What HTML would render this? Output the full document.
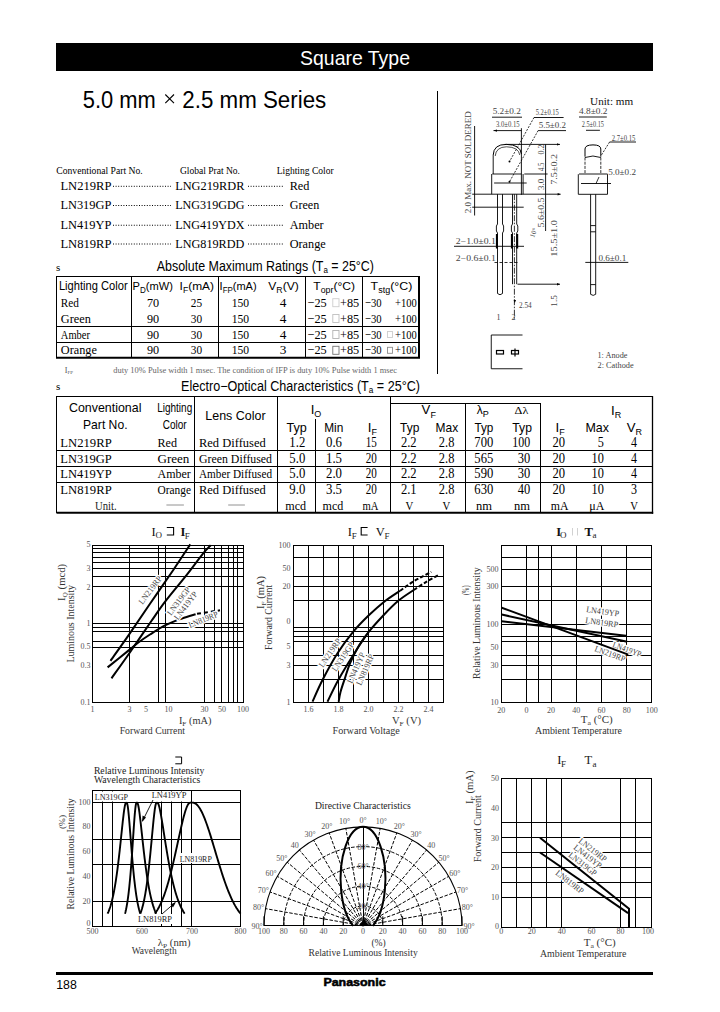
<!DOCTYPE html>
<html><head><meta charset="utf-8"><title>Square Type LED</title>
<style>html,body{margin:0;padding:0;background:#fff;width:720px;height:1012px;overflow:hidden}svg{display:block}
svg text{stroke:none}
</style></head>
<body><svg width="720" height="1012" viewBox="0 0 720 1012" font-family="Liberation Serif" stroke="#000">
<rect x="56" y="43" width="597" height="28" fill="#000" stroke="none"/>
<text x="300.00" y="64.80" font-size="20.6" font-family="Liberation Sans" textLength="110.00" lengthAdjust="spacingAndGlyphs" fill="#fff">Square Type</text>
<text x="82.80" y="107.50" font-size="23.5" font-family="Liberation Sans" textLength="73.00" lengthAdjust="spacingAndGlyphs">5.0 mm</text>
<text x="182.30" y="107.50" font-size="23.5" font-family="Liberation Sans" textLength="144.00" lengthAdjust="spacingAndGlyphs">2.5 mm Series</text>
<path d="M165.3,94.5 L174,103.2 M174,94.5 L165.3,103.2" stroke-width="1.1" fill="none"/>
<line x1="437.5" y1="91" x2="437.5" y2="374" stroke-width="1"/>
<text x="56.30" y="173.50" font-size="9.5" textLength="86.40" lengthAdjust="spacingAndGlyphs">Conventional Part No.</text>
<text x="179.90" y="173.50" font-size="9.5" textLength="60.10" lengthAdjust="spacingAndGlyphs">Global Prat No.</text>
<text x="276.70" y="173.50" font-size="9.5" textLength="56.90" lengthAdjust="spacingAndGlyphs">Lighting Color</text>
<text x="60.40" y="189.80" font-size="13.5" textLength="51.00" lengthAdjust="spacingAndGlyphs">LN219RP</text>
<text x="175.20" y="189.80" font-size="13.5" textLength="69.20" lengthAdjust="spacingAndGlyphs">LNG219RDR</text>
<text x="289.70" y="189.80" font-size="13.5" textLength="19.70" lengthAdjust="spacingAndGlyphs">Red</text>
<line x1="113" y1="186.3" x2="171" y2="186.3" stroke-width="1" stroke-dasharray="1 1.6"/>
<line x1="248" y1="186.3" x2="284" y2="186.3" stroke-width="1" stroke-dasharray="1 1.6"/>
<text x="60.40" y="209.00" font-size="13.5" textLength="51.00" lengthAdjust="spacingAndGlyphs">LN319GP</text>
<text x="175.20" y="209.00" font-size="13.5" textLength="69.20" lengthAdjust="spacingAndGlyphs">LNG319GDG</text>
<text x="289.70" y="209.00" font-size="13.5" textLength="29.50" lengthAdjust="spacingAndGlyphs">Green</text>
<line x1="113" y1="205.5" x2="171" y2="205.5" stroke-width="1" stroke-dasharray="1 1.6"/>
<line x1="248" y1="205.5" x2="284" y2="205.5" stroke-width="1" stroke-dasharray="1 1.6"/>
<text x="60.40" y="228.75" font-size="13.5" textLength="51.00" lengthAdjust="spacingAndGlyphs">LN419YP</text>
<text x="175.20" y="228.75" font-size="13.5" textLength="69.20" lengthAdjust="spacingAndGlyphs">LNG419YDX</text>
<text x="289.70" y="228.75" font-size="13.5" textLength="34.00" lengthAdjust="spacingAndGlyphs">Amber</text>
<line x1="113" y1="225.25" x2="171" y2="225.25" stroke-width="1" stroke-dasharray="1 1.6"/>
<line x1="248" y1="225.25" x2="284" y2="225.25" stroke-width="1" stroke-dasharray="1 1.6"/>
<text x="60.40" y="247.50" font-size="13.5" textLength="51.00" lengthAdjust="spacingAndGlyphs">LN819RP</text>
<text x="175.20" y="247.50" font-size="13.5" textLength="69.20" lengthAdjust="spacingAndGlyphs">LNG819RDD</text>
<text x="289.70" y="247.50" font-size="13.5" textLength="36.00" lengthAdjust="spacingAndGlyphs">Orange</text>
<line x1="113" y1="244.0" x2="171" y2="244.0" stroke-width="1" stroke-dasharray="1 1.6"/>
<line x1="248" y1="244.0" x2="284" y2="244.0" stroke-width="1" stroke-dasharray="1 1.6"/>
<text x="56.00" y="270.50" font-size="11">s</text>
<text x="156.7" y="271" font-size="14" font-family="Liberation Sans" textLength="217.3" lengthAdjust="spacingAndGlyphs">Absolute Maximum Ratings (T<tspan font-size="9" dy="2">a</tspan><tspan dy="-2"> = 25°C)</tspan></text>
<line x1="56" y1="276.5" x2="420" y2="276.5" stroke-width="1"/>
<line x1="56.5" y1="276" x2="56.5" y2="358" stroke-width="1"/>
<line x1="131.5" y1="276" x2="131.5" y2="358" stroke-width="1"/>
<line x1="218.5" y1="276" x2="218.5" y2="358" stroke-width="1"/>
<line x1="305.5" y1="276" x2="305.5" y2="358" stroke-width="1"/>
<line x1="362.5" y1="276" x2="362.5" y2="358" stroke-width="1"/>
<line x1="419" y1="276" x2="419" y2="358" stroke-width="2"/>
<line x1="56" y1="326.5" x2="420" y2="326.5" stroke-width="1"/>
<line x1="56" y1="342.5" x2="420" y2="342.5" stroke-width="1"/>
<line x1="56" y1="357.7" x2="420" y2="357.7" stroke-width="2"/>
<text x="58.90" y="289.70" font-size="12" font-family="Liberation Sans" textLength="68.70" lengthAdjust="spacingAndGlyphs">Lighting Color</text>
<text x="132.5" y="289.7" font-size="11.7" font-family="Liberation Sans" textLength="40.4" lengthAdjust="spacingAndGlyphs">P<tspan font-size="8.5" dy="3">D</tspan><tspan dy="-3">(mW)</tspan></text>
<text x="179.6" y="289.7" font-size="11.7" font-family="Liberation Sans" textLength="34.4" lengthAdjust="spacingAndGlyphs">I<tspan font-size="8.5" dy="3">F</tspan><tspan dy="-3">(mA)</tspan></text>
<text x="219.6" y="289.7" font-size="11.7" font-family="Liberation Sans" textLength="37.0" lengthAdjust="spacingAndGlyphs">I<tspan font-size="8.5" dy="3">FP</tspan><tspan dy="-3">(mA)</tspan></text>
<text x="268.3" y="289.7" font-size="11.7" font-family="Liberation Sans" textLength="30.6" lengthAdjust="spacingAndGlyphs">V<tspan font-size="8.5" dy="3">R</tspan><tspan dy="-3">(V)</tspan></text>
<text x="313.3" y="289.7" font-size="11.7" font-family="Liberation Sans" textLength="41.7" lengthAdjust="spacingAndGlyphs">T<tspan font-size="8.5" dy="3">opr</tspan><tspan dy="-3">(°C)</tspan></text>
<text x="370.6" y="289.7" font-size="11.7" font-family="Liberation Sans" textLength="41.7" lengthAdjust="spacingAndGlyphs">T<tspan font-size="8.5" dy="3">stg</tspan><tspan dy="-3">(°C)</tspan></text>
<text x="60.80" y="306.70" font-size="13.3" textLength="18.10" lengthAdjust="spacingAndGlyphs">Red</text>
<text x="153.00" y="306.70" font-size="13.3" textLength="12.20" lengthAdjust="spacingAndGlyphs" text-anchor="middle">70</text>
<text x="196.50" y="306.70" font-size="13.3" textLength="11.30" lengthAdjust="spacingAndGlyphs" text-anchor="middle">25</text>
<text x="240.40" y="306.70" font-size="13.3" textLength="17.40" lengthAdjust="spacingAndGlyphs" text-anchor="middle">150</text>
<text x="283.00" y="306.70" font-size="13.3" text-anchor="middle">4</text>
<text x="307.50" y="306.70" font-size="13.3" textLength="19.20" lengthAdjust="spacingAndGlyphs">−25</text>
<text x="340.00" y="306.70" font-size="13.3" textLength="19.20" lengthAdjust="spacingAndGlyphs">+85</text>
<text x="365.00" y="306.70" font-size="13.3" textLength="16.70" lengthAdjust="spacingAndGlyphs">−30</text>
<text x="395.00" y="306.70" font-size="13.3" textLength="21.70" lengthAdjust="spacingAndGlyphs">+100</text>
<text x="60.80" y="322.50" font-size="13.3" textLength="30.00" lengthAdjust="spacingAndGlyphs">Green</text>
<text x="153.00" y="322.50" font-size="13.3" textLength="12.20" lengthAdjust="spacingAndGlyphs" text-anchor="middle">90</text>
<text x="196.50" y="322.50" font-size="13.3" textLength="11.30" lengthAdjust="spacingAndGlyphs" text-anchor="middle">30</text>
<text x="240.40" y="322.50" font-size="13.3" textLength="17.40" lengthAdjust="spacingAndGlyphs" text-anchor="middle">150</text>
<text x="283.00" y="322.50" font-size="13.3" text-anchor="middle">4</text>
<text x="307.50" y="322.50" font-size="13.3" textLength="19.20" lengthAdjust="spacingAndGlyphs">−25</text>
<text x="340.00" y="322.50" font-size="13.3" textLength="19.20" lengthAdjust="spacingAndGlyphs">+85</text>
<text x="365.00" y="322.50" font-size="13.3" textLength="16.70" lengthAdjust="spacingAndGlyphs">−30</text>
<text x="395.00" y="322.50" font-size="13.3" textLength="21.70" lengthAdjust="spacingAndGlyphs">+100</text>
<text x="60.80" y="338.50" font-size="13.3" textLength="29.20" lengthAdjust="spacingAndGlyphs">Amber</text>
<text x="153.00" y="338.50" font-size="13.3" textLength="12.20" lengthAdjust="spacingAndGlyphs" text-anchor="middle">90</text>
<text x="196.50" y="338.50" font-size="13.3" textLength="11.30" lengthAdjust="spacingAndGlyphs" text-anchor="middle">30</text>
<text x="240.40" y="338.50" font-size="13.3" textLength="17.40" lengthAdjust="spacingAndGlyphs" text-anchor="middle">150</text>
<text x="283.00" y="338.50" font-size="13.3" text-anchor="middle">4</text>
<text x="307.50" y="338.50" font-size="13.3" textLength="19.20" lengthAdjust="spacingAndGlyphs">−25</text>
<text x="340.00" y="338.50" font-size="13.3" textLength="19.20" lengthAdjust="spacingAndGlyphs">+85</text>
<text x="365.00" y="338.50" font-size="13.3" textLength="16.70" lengthAdjust="spacingAndGlyphs">−30</text>
<text x="395.00" y="338.50" font-size="13.3" textLength="21.70" lengthAdjust="spacingAndGlyphs">+100</text>
<text x="60.80" y="354.30" font-size="13.3" textLength="36.10" lengthAdjust="spacingAndGlyphs">Orange</text>
<text x="153.00" y="354.30" font-size="13.3" textLength="12.20" lengthAdjust="spacingAndGlyphs" text-anchor="middle">90</text>
<text x="196.50" y="354.30" font-size="13.3" textLength="11.30" lengthAdjust="spacingAndGlyphs" text-anchor="middle">30</text>
<text x="240.40" y="354.30" font-size="13.3" textLength="17.40" lengthAdjust="spacingAndGlyphs" text-anchor="middle">150</text>
<text x="283.00" y="354.30" font-size="13.3" text-anchor="middle">3</text>
<text x="307.50" y="354.30" font-size="13.3" textLength="19.20" lengthAdjust="spacingAndGlyphs">−25</text>
<text x="340.00" y="354.30" font-size="13.3" textLength="19.20" lengthAdjust="spacingAndGlyphs">+85</text>
<text x="365.00" y="354.30" font-size="13.3" textLength="16.70" lengthAdjust="spacingAndGlyphs">−30</text>
<text x="395.00" y="354.30" font-size="13.3" textLength="21.70" lengthAdjust="spacingAndGlyphs">+100</text>
<rect x="332.8" y="298.7" width="6.2" height="8" fill="none" stroke="#000" stroke-width="0.9" opacity="0.2"/>
<rect x="332.8" y="314.5" width="6.2" height="8" fill="none" stroke="#000" stroke-width="0.9" opacity="0.25"/>
<rect x="332.8" y="330.5" width="6.2" height="8" fill="none" stroke="#000" stroke-width="0.9" opacity="0.3"/>
<rect x="332.8" y="346.3" width="6.2" height="8" fill="none" stroke="#000" stroke-width="0.9" opacity="0.55"/>
<rect x="387.5" y="331.5" width="5" height="6" fill="none" stroke="#000" stroke-width="0.9" opacity="0.2"/>
<rect x="387.5" y="347.3" width="5" height="6" fill="none" stroke="#000" stroke-width="0.9" opacity="0.45"/>
<text x="64.70" y="372.50" font-size="8" fill="#555">I</text>
<text x="67.5" y="374" font-size="5" fill="#555">FP</text>
<text x="113.30" y="372.50" font-size="8" textLength="283.70" lengthAdjust="spacingAndGlyphs" fill="#666">duty 10% Pulse width 1 msec. The condition of IFP is duty 10% Pulse width 1 msec</text>
<text x="56.00" y="390.00" font-size="11">s</text>
<text x="181" y="390.8" font-size="13.8" font-family="Liberation Sans" textLength="239" lengthAdjust="spacingAndGlyphs">Electro−Optical Characteristics (T<tspan font-size="9" dy="2">a</tspan><tspan dy="-2"> = 25°C)</tspan></text>
<line x1="56" y1="396.5" x2="653" y2="396.5" stroke-width="1"/>
<line x1="56.5" y1="396" x2="56.5" y2="513" stroke-width="1"/>
<line x1="652.5" y1="396" x2="652.5" y2="513.8" stroke-width="1.3"/>
<line x1="194.5" y1="396" x2="194.5" y2="512" stroke-width="1"/>
<line x1="277.5" y1="396" x2="277.5" y2="512" stroke-width="1"/>
<line x1="315.5" y1="419" x2="315.5" y2="512" stroke-width="1"/>
<line x1="390.5" y1="396" x2="390.5" y2="512" stroke-width="1"/>
<line x1="465.5" y1="403.5" x2="465.5" y2="512" stroke-width="1"/>
<line x1="540.5" y1="403.5" x2="540.5" y2="512" stroke-width="1"/>
<line x1="390.6" y1="403.5" x2="541" y2="403.5" stroke-width="1"/>
<line x1="56.5" y1="450.5" x2="653" y2="450.5" stroke-width="1"/>
<line x1="56.5" y1="466.5" x2="653" y2="466.5" stroke-width="1"/>
<line x1="56.5" y1="482.5" x2="653" y2="482.5" stroke-width="1"/>
<line x1="56.5" y1="512.8" x2="653.2" y2="512.8" stroke-width="2"/>
<text x="69.00" y="412.20" font-size="13.2" font-family="Liberation Sans" textLength="72.40" lengthAdjust="spacingAndGlyphs">Conventional</text>
<text x="83.00" y="429.40" font-size="13.2" font-family="Liberation Sans" textLength="44.50" lengthAdjust="spacingAndGlyphs">Part No.</text>
<text x="157.20" y="412.20" font-size="12.5" font-family="Liberation Sans" textLength="35.00" lengthAdjust="spacingAndGlyphs">Lighting</text>
<text x="162.80" y="429.40" font-size="12.5" font-family="Liberation Sans" textLength="23.90" lengthAdjust="spacingAndGlyphs">Color</text>
<text x="205.30" y="420.00" font-size="13.2" font-family="Liberation Sans" textLength="60.30" lengthAdjust="spacingAndGlyphs">Lens Color</text>
<text x="310.7" y="413.9" font-size="13.2" font-family="Liberation Sans">I<tspan font-size="9" dy="3.5">O</tspan></text>
<text x="286.40" y="431.60" font-size="13.2" font-family="Liberation Sans" textLength="20.30" lengthAdjust="spacingAndGlyphs">Typ</text>
<text x="324.20" y="431.60" font-size="13.2" font-family="Liberation Sans" textLength="19.10" lengthAdjust="spacingAndGlyphs">Min</text>
<text x="367.8" y="431.6" font-size="13.2" font-family="Liberation Sans">I<tspan font-size="9" dy="3.5">F</tspan></text>
<text x="421.6" y="414.4" font-size="13.2" font-family="Liberation Sans">V<tspan font-size="9" dy="3.5">F</tspan></text>
<text x="400.00" y="431.60" font-size="13.2" font-family="Liberation Sans" textLength="19.30" lengthAdjust="spacingAndGlyphs">Typ</text>
<text x="435.60" y="431.60" font-size="13.2" font-family="Liberation Sans" textLength="22.60" lengthAdjust="spacingAndGlyphs">Max</text>
<text x="476.7" y="414.4" font-size="12" font-family="Liberation Sans">λ<tspan font-size="9" dy="3">P</tspan></text>
<text x="474.40" y="431.60" font-size="13.2" font-family="Liberation Sans" textLength="18.90" lengthAdjust="spacingAndGlyphs">Typ</text>
<text x="514.60" y="413.60" font-size="11" textLength="13.70" lengthAdjust="spacingAndGlyphs">Δλ</text>
<text x="512.30" y="431.60" font-size="13.2" font-family="Liberation Sans" textLength="19.60" lengthAdjust="spacingAndGlyphs">Typ</text>
<text x="611" y="414.8" font-size="13.2" font-family="Liberation Sans">I<tspan font-size="9" dy="3.5">R</tspan></text>
<text x="555.5" y="431.6" font-size="13.2" font-family="Liberation Sans">I<tspan font-size="9" dy="3.5">F</tspan></text>
<text x="585.50" y="431.60" font-size="13.2" font-family="Liberation Sans" textLength="23.50" lengthAdjust="spacingAndGlyphs">Max</text>
<text x="626.8" y="431.6" font-size="13.2" font-family="Liberation Sans">V<tspan font-size="9" dy="3.5">R</tspan></text>
<text x="60.30" y="446.90" font-size="13" textLength="51.40" lengthAdjust="spacingAndGlyphs">LN219RP</text>
<text x="157.50" y="446.90" font-size="13" textLength="19.50" lengthAdjust="spacingAndGlyphs">Red</text>
<text x="199.00" y="446.90" font-size="13" textLength="66.70" lengthAdjust="spacingAndGlyphs">Red Diffused</text>
<text x="297.30" y="446.90" font-size="14" textLength="15.90" lengthAdjust="spacingAndGlyphs" text-anchor="middle">1.2</text>
<text x="334.00" y="446.90" font-size="14" textLength="16.00" lengthAdjust="spacingAndGlyphs" text-anchor="middle">0.6</text>
<text x="371.20" y="446.90" font-size="14" textLength="11.10" lengthAdjust="spacingAndGlyphs" text-anchor="middle">15</text>
<text x="408.80" y="446.90" font-size="14" textLength="15.70" lengthAdjust="spacingAndGlyphs" text-anchor="middle">2.2</text>
<text x="446.60" y="446.90" font-size="14" textLength="15.50" lengthAdjust="spacingAndGlyphs" text-anchor="middle">2.8</text>
<text x="483.80" y="446.90" font-size="14" textLength="18.90" lengthAdjust="spacingAndGlyphs" text-anchor="middle">700</text>
<text x="530.20" y="446.90" font-size="14" textLength="17.90" lengthAdjust="spacingAndGlyphs" text-anchor="end">100</text>
<text x="558.70" y="446.90" font-size="14" textLength="12.60" lengthAdjust="spacingAndGlyphs" text-anchor="middle">20</text>
<text x="603.90" y="446.90" font-size="14" textLength="6.10" lengthAdjust="spacingAndGlyphs" text-anchor="end">5</text>
<text x="634.00" y="446.90" font-size="14" textLength="6.00" lengthAdjust="spacingAndGlyphs" text-anchor="middle">4</text>
<text x="60.30" y="462.70" font-size="13" textLength="51.40" lengthAdjust="spacingAndGlyphs">LN319GP</text>
<text x="157.50" y="462.70" font-size="13" textLength="31.90" lengthAdjust="spacingAndGlyphs">Green</text>
<text x="199.00" y="462.70" font-size="13" textLength="73.00" lengthAdjust="spacingAndGlyphs">Green Diffused</text>
<text x="297.30" y="462.70" font-size="14" textLength="15.90" lengthAdjust="spacingAndGlyphs" text-anchor="middle">5.0</text>
<text x="334.00" y="462.70" font-size="14" textLength="16.00" lengthAdjust="spacingAndGlyphs" text-anchor="middle">1.5</text>
<text x="371.20" y="462.70" font-size="14" textLength="11.10" lengthAdjust="spacingAndGlyphs" text-anchor="middle">20</text>
<text x="408.80" y="462.70" font-size="14" textLength="15.70" lengthAdjust="spacingAndGlyphs" text-anchor="middle">2.2</text>
<text x="446.60" y="462.70" font-size="14" textLength="15.50" lengthAdjust="spacingAndGlyphs" text-anchor="middle">2.8</text>
<text x="483.80" y="462.70" font-size="14" textLength="18.90" lengthAdjust="spacingAndGlyphs" text-anchor="middle">565</text>
<text x="530.20" y="462.70" font-size="14" textLength="12.50" lengthAdjust="spacingAndGlyphs" text-anchor="end">30</text>
<text x="558.70" y="462.70" font-size="14" textLength="12.60" lengthAdjust="spacingAndGlyphs" text-anchor="middle">20</text>
<text x="603.90" y="462.70" font-size="14" textLength="12.30" lengthAdjust="spacingAndGlyphs" text-anchor="end">10</text>
<text x="634.00" y="462.70" font-size="14" textLength="6.00" lengthAdjust="spacingAndGlyphs" text-anchor="middle">4</text>
<text x="60.30" y="478.40" font-size="13" textLength="51.40" lengthAdjust="spacingAndGlyphs">LN419YP</text>
<text x="157.50" y="478.40" font-size="13" textLength="33.30" lengthAdjust="spacingAndGlyphs">Amber</text>
<text x="199.00" y="478.40" font-size="13" textLength="73.00" lengthAdjust="spacingAndGlyphs">Amber Diffused</text>
<text x="297.30" y="478.40" font-size="14" textLength="15.90" lengthAdjust="spacingAndGlyphs" text-anchor="middle">5.0</text>
<text x="334.00" y="478.40" font-size="14" textLength="16.00" lengthAdjust="spacingAndGlyphs" text-anchor="middle">2.0</text>
<text x="371.20" y="478.40" font-size="14" textLength="11.10" lengthAdjust="spacingAndGlyphs" text-anchor="middle">20</text>
<text x="408.80" y="478.40" font-size="14" textLength="15.70" lengthAdjust="spacingAndGlyphs" text-anchor="middle">2.2</text>
<text x="446.60" y="478.40" font-size="14" textLength="15.50" lengthAdjust="spacingAndGlyphs" text-anchor="middle">2.8</text>
<text x="483.80" y="478.40" font-size="14" textLength="18.90" lengthAdjust="spacingAndGlyphs" text-anchor="middle">590</text>
<text x="530.20" y="478.40" font-size="14" textLength="12.50" lengthAdjust="spacingAndGlyphs" text-anchor="end">30</text>
<text x="558.70" y="478.40" font-size="14" textLength="12.60" lengthAdjust="spacingAndGlyphs" text-anchor="middle">20</text>
<text x="603.90" y="478.40" font-size="14" textLength="12.30" lengthAdjust="spacingAndGlyphs" text-anchor="end">10</text>
<text x="634.00" y="478.40" font-size="14" textLength="6.00" lengthAdjust="spacingAndGlyphs" text-anchor="middle">4</text>
<text x="60.30" y="494.00" font-size="13" textLength="51.40" lengthAdjust="spacingAndGlyphs">LN819RP</text>
<text x="157.50" y="494.00" font-size="13" textLength="33.50" lengthAdjust="spacingAndGlyphs">Orange</text>
<text x="199.00" y="494.00" font-size="13" textLength="66.70" lengthAdjust="spacingAndGlyphs">Red Diffused</text>
<text x="297.30" y="494.00" font-size="14" textLength="15.90" lengthAdjust="spacingAndGlyphs" text-anchor="middle">9.0</text>
<text x="334.00" y="494.00" font-size="14" textLength="16.00" lengthAdjust="spacingAndGlyphs" text-anchor="middle">3.5</text>
<text x="371.20" y="494.00" font-size="14" textLength="11.10" lengthAdjust="spacingAndGlyphs" text-anchor="middle">20</text>
<text x="408.80" y="494.00" font-size="14" textLength="15.70" lengthAdjust="spacingAndGlyphs" text-anchor="middle">2.1</text>
<text x="446.60" y="494.00" font-size="14" textLength="15.50" lengthAdjust="spacingAndGlyphs" text-anchor="middle">2.8</text>
<text x="483.80" y="494.00" font-size="14" textLength="18.90" lengthAdjust="spacingAndGlyphs" text-anchor="middle">630</text>
<text x="530.20" y="494.00" font-size="14" textLength="12.50" lengthAdjust="spacingAndGlyphs" text-anchor="end">40</text>
<text x="558.70" y="494.00" font-size="14" textLength="12.60" lengthAdjust="spacingAndGlyphs" text-anchor="middle">20</text>
<text x="603.90" y="494.00" font-size="14" textLength="12.30" lengthAdjust="spacingAndGlyphs" text-anchor="end">10</text>
<text x="634.00" y="494.00" font-size="14" textLength="6.00" lengthAdjust="spacingAndGlyphs" text-anchor="middle">3</text>
<text x="95.00" y="509.80" font-size="12" textLength="21.70" lengthAdjust="spacingAndGlyphs" fill="#222">Unit.</text>
<line x1="166.4" y1="505" x2="183.9" y2="505" stroke-width="0.8" stroke="#777"/>
<line x1="228.2" y1="505" x2="244.9" y2="505" stroke-width="0.8" stroke="#777"/>
<text x="295.70" y="509.80" font-size="12" textLength="20.80" lengthAdjust="spacingAndGlyphs" text-anchor="middle">mcd</text>
<text x="333.00" y="509.80" font-size="12" textLength="20.80" lengthAdjust="spacingAndGlyphs" text-anchor="middle">mcd</text>
<text x="370.50" y="509.80" font-size="12" textLength="16.00" lengthAdjust="spacingAndGlyphs" text-anchor="middle">mA</text>
<text x="409.40" y="509.80" font-size="12" textLength="7.80" lengthAdjust="spacingAndGlyphs" text-anchor="middle">V</text>
<text x="446.50" y="509.80" font-size="12" textLength="7.80" lengthAdjust="spacingAndGlyphs" text-anchor="middle">V</text>
<text x="484.00" y="509.80" font-size="12" textLength="16.00" lengthAdjust="spacingAndGlyphs" text-anchor="middle">nm</text>
<text x="522.00" y="509.80" font-size="12" textLength="16.00" lengthAdjust="spacingAndGlyphs" text-anchor="middle">nm</text>
<text x="559.60" y="509.80" font-size="12" textLength="17.70" lengthAdjust="spacingAndGlyphs" text-anchor="middle">mA</text>
<text x="596.80" y="509.80" font-size="12" textLength="15.10" lengthAdjust="spacingAndGlyphs" text-anchor="middle">μA</text>
<text x="634.20" y="509.80" font-size="12" textLength="7.70" lengthAdjust="spacingAndGlyphs" text-anchor="middle">V</text>
<text x="151.5" y="535.8" font-size="12.5" fill="#111">I</text>
<text x="155.5" y="538.4" font-size="9" fill="#222">O</text>
<path d="M166.8,527.5 L173.6,527.5 L173.6,535 L166.8,535" fill="none" stroke-width="1.1" />
<text x="180.6" y="535.8" font-size="12.5" font-weight="bold" fill="#111">I</text>
<text x="184.8" y="538.6" font-size="9" fill="#222">F</text>
<line x1="129.5" y1="545.3" x2="129.5" y2="702.1" stroke-width="1"/>
<line x1="158.5" y1="545.3" x2="158.5" y2="702.1" stroke-width="1"/>
<line x1="165.5" y1="545.3" x2="165.5" y2="702.1" stroke-width="1"/>
<line x1="204.5" y1="545.3" x2="204.5" y2="702.1" stroke-width="1"/>
<line x1="214.5" y1="545.3" x2="214.5" y2="702.1" stroke-width="1"/>
<line x1="221.5" y1="545.3" x2="221.5" y2="702.1" stroke-width="1"/>
<line x1="228.5" y1="545.3" x2="228.5" y2="702.1" stroke-width="1"/>
<line x1="233.5" y1="545.3" x2="233.5" y2="702.1" stroke-width="1"/>
<line x1="237.5" y1="545.3" x2="237.5" y2="702.1" stroke-width="1"/>
<line x1="92.5" y1="548.5" x2="243.1" y2="548.5" stroke-width="1"/>
<line x1="92.5" y1="552.5" x2="243.1" y2="552.5" stroke-width="1"/>
<line x1="92.5" y1="557.5" x2="243.1" y2="557.5" stroke-width="1"/>
<line x1="92.5" y1="562.5" x2="243.1" y2="562.5" stroke-width="1"/>
<line x1="92.5" y1="568.5" x2="243.1" y2="568.5" stroke-width="1"/>
<line x1="92.5" y1="576.5" x2="243.1" y2="576.5" stroke-width="1"/>
<line x1="92.5" y1="586.5" x2="243.1" y2="586.5" stroke-width="1"/>
<line x1="92.5" y1="623.5" x2="243.1" y2="623.5" stroke-width="1"/>
<line x1="92.5" y1="627.5" x2="243.1" y2="627.5" stroke-width="1"/>
<line x1="92.5" y1="631.5" x2="243.1" y2="631.5" stroke-width="1"/>
<line x1="92.5" y1="641.5" x2="243.1" y2="641.5" stroke-width="1"/>
<line x1="92.5" y1="647.5" x2="243.1" y2="647.5" stroke-width="1"/>
<rect x="92.5" y="545.5" width="151" height="157" fill="none" stroke="#000" stroke-width="1"/>
<path d="M110.50,660.80 C113.58,656.43 122.42,644.12 129.00,634.60 C135.58,625.08 142.53,614.60 150.00,603.70 C157.47,592.80 167.08,579.08 173.80,569.20 C180.52,559.32 187.55,548.53 190.30,544.40" fill="none" stroke-width="2" />
<path d="M111.50,678.30 C114.50,674.08 122.85,662.55 129.50,653.00 C136.15,643.45 145.40,629.63 151.40,621.00 C157.40,612.37 159.82,608.63 165.50,601.20 C171.18,593.77 179.25,584.33 185.50,576.40 C191.75,568.47 198.80,558.78 203.00,553.60 C207.20,548.42 209.42,546.68 210.70,545.30" fill="none" stroke-width="2" />
<path d="M107.60,667.40 C111.17,664.52 123.82,654.30 129.00,650.10 C134.18,645.90 135.20,644.80 138.70,642.20 C142.20,639.60 145.62,637.32 150.00,634.50 C154.38,631.68 159.67,627.97 165.00,625.30 C170.33,622.63 176.90,620.35 182.00,618.50 C187.10,616.65 193.33,614.92 195.60,614.20" fill="none" stroke-width="2" />
<path d="M197,613.8 L220,610.3" fill="none" stroke-width="2" stroke-dasharray="4 3"/>
<text x="142.5" y="605" font-size="8.5" transform="rotate(-53 142.5 605)" stroke="#fff" stroke-width="2.5" fill="#fff" style="stroke:#fff" textLength="33" lengthAdjust="spacingAndGlyphs">LN219RP</text>
<text x="142.5" y="605" font-size="8.5" transform="rotate(-53 142.5 605)" fill="#444" textLength="33" lengthAdjust="spacingAndGlyphs">LN219RP</text>
<text x="171" y="616" font-size="8.5" transform="rotate(-53 171 616)" stroke="#fff" stroke-width="2.5" fill="#fff" style="stroke:#fff" textLength="33" lengthAdjust="spacingAndGlyphs">LN319GP</text>
<text x="171" y="616" font-size="8.5" transform="rotate(-53 171 616)" fill="#444" textLength="33" lengthAdjust="spacingAndGlyphs">LN319GP</text>
<text x="178" y="620.5" font-size="8.5" transform="rotate(-53 178 620.5)" stroke="#fff" stroke-width="2.5" fill="#fff" style="stroke:#fff" textLength="33" lengthAdjust="spacingAndGlyphs">LN419YP</text>
<text x="178" y="620.5" font-size="8.5" transform="rotate(-53 178 620.5)" fill="#444" textLength="33" lengthAdjust="spacingAndGlyphs">LN419YP</text>
<text x="190" y="628" font-size="8.5" transform="rotate(-22 190 628)" stroke="#fff" stroke-width="2.5" fill="#fff" style="stroke:#fff" textLength="31" lengthAdjust="spacingAndGlyphs">LN819RP</text>
<text x="190" y="628" font-size="8.5" transform="rotate(-22 190 628)" fill="#444" textLength="31" lengthAdjust="spacingAndGlyphs">LN819RP</text>
<text x="90.50" y="547.00" font-size="8" text-anchor="end" fill="#555">5</text>
<text x="90.50" y="570.50" font-size="8" text-anchor="end" fill="#555">3</text>
<text x="90.50" y="589.50" font-size="8" text-anchor="end" fill="#555">2</text>
<text x="90.50" y="625.50" font-size="8" text-anchor="end" fill="#555">1</text>
<text x="90.50" y="649.00" font-size="8" text-anchor="end" fill="#555">0.5</text>
<text x="90.50" y="667.50" font-size="8" text-anchor="end" fill="#555">0.3</text>
<text x="90.50" y="705.00" font-size="8" text-anchor="end" fill="#555">0.1</text>
<text x="92.50" y="711.50" font-size="8" text-anchor="middle" fill="#555">1</text>
<text x="129.40" y="711.50" font-size="8" text-anchor="middle" fill="#555">3</text>
<text x="146.00" y="711.50" font-size="8" text-anchor="middle" fill="#555">5</text>
<text x="168.50" y="711.50" font-size="8" text-anchor="middle" fill="#555">10</text>
<text x="204.40" y="711.50" font-size="8" text-anchor="middle" fill="#555">30</text>
<text x="221.90" y="711.50" font-size="8" text-anchor="middle" fill="#555">50</text>
<text x="243.00" y="711.50" font-size="8" text-anchor="middle" fill="#555">100</text>
<text x="178.9" y="724.4" font-size="10" fill="#333" textLength="32.5" lengthAdjust="spacingAndGlyphs">I<tspan font-size="7" dy="2">F</tspan><tspan dy="-2"> (mA)</tspan></text>
<text x="119.70" y="734.00" font-size="9.5" textLength="65.30" lengthAdjust="spacingAndGlyphs" fill="#333">Forward Current</text>
<text x="64.5" y="601" font-size="10" fill="#333" transform="rotate(-90 64.5 601)" textLength="37" lengthAdjust="spacingAndGlyphs">I<tspan font-size="7" dy="2">O</tspan><tspan dy="-2"> (mcd)</tspan></text>
<text x="74.30" y="662.60" font-size="9.5" textLength="77.60" lengthAdjust="spacingAndGlyphs" fill="#333" transform="rotate(-90 74.30 662.60)">Luminous Intensity</text>
<text x="347.8" y="535.8" font-size="12.5" fill="#111">I</text>
<text x="351.8" y="538.6" font-size="9" fill="#222">F</text>
<path d="M367.6,527.5 L361.2,527.5 L361.2,535 L367.6,535" fill="none" stroke-width="1.1" />
<text x="375.8" y="535.8" font-size="12.5" fill="#111">V</text>
<text x="384.6" y="538.6" font-size="9" fill="#222">F</text>
<line x1="308.5" y1="545.6" x2="308.5" y2="702.1" stroke-width="1"/>
<line x1="323.5" y1="545.6" x2="323.5" y2="702.1" stroke-width="1"/>
<line x1="338.5" y1="545.6" x2="338.5" y2="702.1" stroke-width="1"/>
<line x1="353.5" y1="545.6" x2="353.5" y2="702.1" stroke-width="1"/>
<line x1="368.5" y1="545.6" x2="368.5" y2="702.1" stroke-width="1"/>
<line x1="383.5" y1="545.6" x2="383.5" y2="702.1" stroke-width="1"/>
<line x1="398.5" y1="545.6" x2="398.5" y2="702.1" stroke-width="1"/>
<line x1="413.5" y1="545.6" x2="413.5" y2="702.1" stroke-width="1"/>
<line x1="428.5" y1="545.6" x2="428.5" y2="702.1" stroke-width="1"/>
<line x1="293.5" y1="557.5" x2="443.5" y2="557.5" stroke-width="1"/>
<line x1="293.5" y1="576.5" x2="443.5" y2="576.5" stroke-width="1"/>
<line x1="293.5" y1="586.5" x2="443.5" y2="586.5" stroke-width="1"/>
<line x1="293.5" y1="600.5" x2="443.5" y2="600.5" stroke-width="1"/>
<line x1="293.5" y1="627.5" x2="443.5" y2="627.5" stroke-width="1"/>
<line x1="293.5" y1="631.5" x2="443.5" y2="631.5" stroke-width="1"/>
<line x1="293.5" y1="636.5" x2="443.5" y2="636.5" stroke-width="1"/>
<line x1="293.5" y1="641.5" x2="443.5" y2="641.5" stroke-width="1"/>
<line x1="293.5" y1="655.5" x2="443.5" y2="655.5" stroke-width="1"/>
<line x1="293.5" y1="665.5" x2="443.5" y2="665.5" stroke-width="1"/>
<line x1="293.5" y1="679.5" x2="443.5" y2="679.5" stroke-width="1"/>
<rect x="293.5" y="545.5" width="150" height="157" fill="none" stroke="#000" stroke-width="1"/>
<text x="323" y="668" font-size="8.5" transform="rotate(-56 323 668)" stroke="#fff" stroke-width="2.5" fill="#fff" style="stroke:#fff" textLength="33" lengthAdjust="spacingAndGlyphs">LN219RP</text>
<text x="323" y="668" font-size="8.5" transform="rotate(-56 323 668)" fill="#444" textLength="33" lengthAdjust="spacingAndGlyphs">LN219RP</text>
<text x="336" y="672" font-size="8.5" transform="rotate(-56 336 672)" stroke="#fff" stroke-width="2.5" fill="#fff" style="stroke:#fff" textLength="33" lengthAdjust="spacingAndGlyphs">LN319GP</text>
<text x="336" y="672" font-size="8.5" transform="rotate(-56 336 672)" fill="#444" textLength="33" lengthAdjust="spacingAndGlyphs">LN319GP</text>
<text x="352" y="684" font-size="8.5" transform="rotate(-66 352 684)" stroke="#fff" stroke-width="2.5" fill="#fff" style="stroke:#fff" textLength="33" lengthAdjust="spacingAndGlyphs">LN419YP</text>
<text x="352" y="684" font-size="8.5" transform="rotate(-66 352 684)" fill="#444" textLength="33" lengthAdjust="spacingAndGlyphs">LN419YP</text>
<text x="361" y="686" font-size="8.5" transform="rotate(-66 361 686)" stroke="#fff" stroke-width="2.5" fill="#fff" style="stroke:#fff" textLength="33" lengthAdjust="spacingAndGlyphs">LN819RP</text>
<text x="361" y="686" font-size="8.5" transform="rotate(-66 361 686)" fill="#444" textLength="33" lengthAdjust="spacingAndGlyphs">LN819RP</text>
<path d="M312.50,701.70 C314.17,698.08 318.33,688.07 322.50,680.00 C326.67,671.93 332.37,661.35 337.50,653.30 C342.63,645.25 348.17,637.95 353.30,631.70 C358.43,625.45 363.15,620.80 368.30,615.80 C373.45,610.80 378.92,605.87 384.20,601.70 C389.48,597.53 397.37,592.62 400.00,590.80" fill="none" stroke-width="2" />
<path d="M400.00,590.80 C402.29,589.21 408.54,584.40 413.75,581.25 C418.96,578.10 428.33,573.46 431.25,571.90" fill="none" stroke-width="2" stroke-dasharray="4 2"/>
<path d="M327.50,701.70 C329.30,698.08 334.00,687.78 338.30,680.00 C342.60,672.22 348.30,662.92 353.30,655.00 C358.30,647.08 363.23,639.17 368.30,632.50 C373.38,625.83 378.75,620.28 383.75,615.00 C388.75,609.72 393.30,604.97 398.30,600.80 C403.30,596.63 411.18,591.80 413.75,590.00" fill="none" stroke-width="2" />
<path d="M413.75,590.00 C415.83,588.65 422.08,584.40 426.25,581.90 C430.42,579.40 436.67,576.15 438.75,575.00" fill="none" stroke-width="2" stroke-dasharray="4 2"/>
<path d="M338.70,701.70 C339.00,700.08 339.45,695.95 340.50,692.00 C341.55,688.05 343.42,682.78 345.00,678.00 C346.58,673.22 347.78,668.52 350.00,663.30 C352.22,658.08 355.25,651.83 358.30,646.70 C361.35,641.57 366.63,634.87 368.30,632.50" fill="none" stroke-width="2" />
<text x="290.50" y="548.00" font-size="8" text-anchor="end" fill="#555">100</text>
<text x="290.50" y="571.00" font-size="8" text-anchor="end" fill="#555">50</text>
<text x="290.50" y="589.00" font-size="8" text-anchor="end" fill="#555">20</text>
<text x="290.50" y="624.00" font-size="8" text-anchor="end" fill="#555">0</text>
<text x="290.50" y="649.00" font-size="8" text-anchor="end" fill="#555">5</text>
<text x="290.50" y="667.50" font-size="8" text-anchor="end" fill="#555">3</text>
<text x="290.50" y="705.00" font-size="8" text-anchor="end" fill="#555">1</text>
<text x="308.50" y="711.50" font-size="8" text-anchor="middle" fill="#555">1.6</text>
<text x="338.50" y="711.50" font-size="8" text-anchor="middle" fill="#555">1.8</text>
<text x="368.50" y="711.50" font-size="8" text-anchor="middle" fill="#555">2.0</text>
<text x="398.50" y="711.50" font-size="8" text-anchor="middle" fill="#555">2.2</text>
<text x="428.50" y="711.50" font-size="8" text-anchor="middle" fill="#555">2.4</text>
<text x="392" y="724.4" font-size="10" fill="#333" textLength="29" lengthAdjust="spacingAndGlyphs">V<tspan font-size="7" dy="2">F</tspan><tspan dy="-2">  (V)</tspan></text>
<text x="332.60" y="734.00" font-size="9.5" textLength="67.20" lengthAdjust="spacingAndGlyphs" fill="#333">Forward Voltage</text>
<text x="264" y="609" font-size="10" fill="#333" transform="rotate(-90 264 609)" textLength="33" lengthAdjust="spacingAndGlyphs">I<tspan font-size="7" dy="2">F</tspan><tspan dy="-2"> (mA)</tspan></text>
<text x="272.00" y="650.00" font-size="9.5" textLength="65.00" lengthAdjust="spacingAndGlyphs" fill="#333" transform="rotate(-90 272.00 650.00)">Forward Current</text>
<text x="556.2" y="535.6" font-size="12.7" font-weight="bold" fill="#111">I</text>
<text x="560" y="538.3" font-size="9" fill="#222">O</text>
<path d="M572.5,528 L572.5,535.5 M577.5,528 L577.5,535.5" stroke="#ccc" stroke-width="0.9" fill="none"/>
<text x="584.6" y="535.6" font-size="12.7" font-weight="bold" fill="#111">T</text>
<text x="592.6" y="538.3" font-size="9" fill="#222">a</text>
<line x1="526.5" y1="545.6" x2="526.5" y2="702.1" stroke-width="1"/>
<line x1="538.5" y1="545.6" x2="538.5" y2="702.1" stroke-width="1"/>
<line x1="551.5" y1="545.6" x2="551.5" y2="702.1" stroke-width="1"/>
<line x1="576.5" y1="545.6" x2="576.5" y2="702.1" stroke-width="1"/>
<line x1="601.5" y1="545.6" x2="601.5" y2="702.1" stroke-width="1"/>
<line x1="626.5" y1="545.6" x2="626.5" y2="702.1" stroke-width="1"/>
<line x1="501.5" y1="557.5" x2="651.5" y2="557.5" stroke-width="1"/>
<line x1="501.5" y1="569.5" x2="651.5" y2="569.5" stroke-width="1"/>
<line x1="501.5" y1="586.5" x2="651.5" y2="586.5" stroke-width="1"/>
<line x1="501.5" y1="600.5" x2="651.5" y2="600.5" stroke-width="1"/>
<line x1="501.5" y1="624.5" x2="651.5" y2="624.5" stroke-width="1"/>
<line x1="501.5" y1="636.5" x2="651.5" y2="636.5" stroke-width="1"/>
<line x1="501.5" y1="641.5" x2="651.5" y2="641.5" stroke-width="1"/>
<line x1="501.5" y1="655.5" x2="651.5" y2="655.5" stroke-width="1"/>
<line x1="501.5" y1="665.5" x2="651.5" y2="665.5" stroke-width="1"/>
<line x1="501.5" y1="679.5" x2="651.5" y2="679.5" stroke-width="1"/>
<rect x="501.5" y="545.5" width="150" height="157" fill="none" stroke="#000" stroke-width="1"/>
<text x="586" y="612" font-size="8.5" transform="rotate(8 586 612)" stroke="#fff" stroke-width="2.5" fill="#fff" style="stroke:#fff" textLength="33" lengthAdjust="spacingAndGlyphs">LN419YP</text>
<text x="586" y="612" font-size="8.5" transform="rotate(8 586 612)" fill="#444" textLength="33" lengthAdjust="spacingAndGlyphs">LN419YP</text>
<text x="585" y="623" font-size="8.5" transform="rotate(8 585 623)" stroke="#fff" stroke-width="2.5" fill="#fff" style="stroke:#fff" textLength="33" lengthAdjust="spacingAndGlyphs">LN819RP</text>
<text x="585" y="623" font-size="8.5" transform="rotate(8 585 623)" fill="#444" textLength="33" lengthAdjust="spacingAndGlyphs">LN819RP</text>
<text x="612" y="647" font-size="8.5" transform="rotate(20 612 647)" stroke="#fff" stroke-width="2.5" fill="#fff" style="stroke:#fff" textLength="30" lengthAdjust="spacingAndGlyphs">LN419YP</text>
<text x="612" y="647" font-size="8.5" transform="rotate(20 612 647)" fill="#444" textLength="30" lengthAdjust="spacingAndGlyphs">LN419YP</text>
<text x="594" y="651" font-size="8.5" transform="rotate(20 594 651)" stroke="#fff" stroke-width="2.5" fill="#fff" style="stroke:#fff" textLength="32" lengthAdjust="spacingAndGlyphs">LN219RP</text>
<text x="594" y="651" font-size="8.5" transform="rotate(20 594 651)" fill="#444" textLength="32" lengthAdjust="spacingAndGlyphs">LN219RP</text>
<path d="M501.7,607.7 L628.3,654.6" fill="none" stroke-width="2" />
<path d="M501.7,614.6 L627.2,641.7" fill="none" stroke-width="2" />
<path d="M501.7,621.2 L626,635.7" fill="none" stroke-width="2" />
<text x="498.50" y="571.50" font-size="8" text-anchor="end" fill="#555">500</text>
<text x="498.50" y="589.00" font-size="8" text-anchor="end" fill="#555">300</text>
<text x="498.50" y="626.50" font-size="8" text-anchor="end" fill="#555">100</text>
<text x="498.50" y="650.00" font-size="8" text-anchor="end" fill="#555">50</text>
<text x="498.50" y="667.50" font-size="8" text-anchor="end" fill="#555">30</text>
<text x="498.50" y="705.00" font-size="8" text-anchor="end" fill="#555">10</text>
<text x="501.30" y="712.70" font-size="8" text-anchor="middle" fill="#555">20</text>
<text x="526.50" y="712.70" font-size="8" text-anchor="middle" fill="#555">0</text>
<text x="551.00" y="712.70" font-size="8" text-anchor="middle" fill="#555">20</text>
<text x="576.20" y="712.70" font-size="8" text-anchor="middle" fill="#555">40</text>
<text x="601.60" y="712.70" font-size="8" text-anchor="middle" fill="#555">60</text>
<text x="626.70" y="712.70" font-size="8" text-anchor="middle" fill="#555">80</text>
<text x="651.70" y="712.70" font-size="8" text-anchor="middle" fill="#555">100</text>
<text x="580.8" y="723.4" font-size="10" fill="#333" textLength="32" lengthAdjust="spacingAndGlyphs">T<tspan font-size="7" dy="2">a</tspan><tspan dy="-2">  (°C)</tspan></text>
<text x="535.00" y="734.00" font-size="9.5" textLength="87.00" lengthAdjust="spacingAndGlyphs" fill="#333">Ambient Temperature</text>
<text x="480.00" y="679.00" font-size="9.5" textLength="111.60" lengthAdjust="spacingAndGlyphs" fill="#333" transform="rotate(-90 480.00 679.00)">Relative Luminous Intensity</text>
<text x="469.00" y="595.00" font-size="9.5" textLength="9.50" lengthAdjust="spacingAndGlyphs" fill="#333" transform="rotate(-90 469.00 595.00)">(%)</text>
<path d="M175.3,757 L181.6,757 L181.6,763.8 L175.3,763.8" fill="none" stroke-width="1.0" />
<text x="93.90" y="773.90" font-size="10" textLength="110.50" lengthAdjust="spacingAndGlyphs" fill="#222">Relative Luminous Intensity</text>
<text x="93.90" y="783.00" font-size="10" textLength="106.40" lengthAdjust="spacingAndGlyphs" fill="#222">Wavelength Characteristics</text>
<line x1="102.5" y1="790.6" x2="102.5" y2="926" stroke-width="1"/>
<line x1="112.5" y1="790.6" x2="112.5" y2="926" stroke-width="1"/>
<line x1="161.5" y1="790.6" x2="161.5" y2="926" stroke-width="1"/>
<line x1="171.5" y1="790.6" x2="171.5" y2="926" stroke-width="1"/>
<line x1="181.5" y1="790.6" x2="181.5" y2="926" stroke-width="1"/>
<line x1="191.5" y1="790.6" x2="191.5" y2="926" stroke-width="1"/>
<line x1="92.5" y1="802.5" x2="240.6" y2="802.5" stroke-width="1"/>
<line x1="92.5" y1="839.5" x2="240.6" y2="839.5" stroke-width="1"/>
<line x1="92.5" y1="864.5" x2="240.6" y2="864.5" stroke-width="1"/>
<line x1="92.5" y1="901.5" x2="240.6" y2="901.5" stroke-width="1"/>
<rect x="92.5" y="790.5" width="148" height="136" fill="none" stroke="#000" stroke-width="1"/>
<path d="M107.60,913.66 L107.80,913.22 L108.01,912.77 L108.21,912.30 L108.42,911.82 L108.62,911.33 L108.83,910.81 L109.03,910.29 L109.24,909.74 L109.44,909.18 L109.64,908.60 L109.85,908.01 L110.05,907.39 L110.26,906.76 L110.46,906.11 L110.67,905.44 L110.87,904.74 L111.07,904.03 L111.28,903.30 L111.48,902.55 L111.69,901.77 L111.89,900.97 L112.10,900.15 L112.30,899.31 L112.51,898.45 L112.71,897.56 L112.91,896.64 L113.12,895.70 L113.32,894.74 L113.53,893.75 L113.73,892.73 L113.94,891.69 L114.14,890.62 L114.34,889.52 L114.55,888.39 L114.75,887.24 L114.96,886.06 L115.16,884.85 L115.37,883.61 L115.57,882.34 L115.78,881.04 L115.98,879.71 L116.18,878.36 L116.39,876.97 L116.59,875.55 L116.80,874.10 L117.00,872.63 L117.21,871.12 L117.41,869.58 L117.61,868.01 L117.82,866.41 L118.02,864.79 L118.23,863.13 L118.43,861.45 L118.64,859.74 L118.84,858.00 L119.05,856.23 L119.25,854.44 L119.45,852.63 L119.66,850.79 L119.86,848.93 L120.07,847.05 L120.27,845.15 L120.48,843.24 L120.68,841.31 L120.88,839.37 L121.09,837.42 L121.29,835.46 L121.50,833.51 L121.70,831.55 L121.91,829.60 L122.11,827.65 L122.32,825.73 L122.52,823.82 L122.72,821.94 L122.93,820.09 L123.13,818.28 L123.34,816.53 L123.54,814.82 L123.75,813.19 L123.95,811.64 L124.15,810.17 L124.36,808.80 L124.56,807.55 L124.77,806.42 L124.97,805.43 L125.18,804.59 L125.38,803.89 L125.59,803.36 L125.79,802.97 L125.99,802.74 L126.20,802.62 L126.40,802.60 L126.61,802.64 L126.81,802.82 L127.02,803.19 L127.22,803.78 L127.42,804.60 L127.63,805.66 L127.83,806.95 L128.04,808.46 L128.24,810.16 L128.45,812.04 L128.65,814.08 L128.86,816.25 L129.06,818.54 L129.26,820.92 L129.47,823.38 L129.67,825.90 L129.88,828.47 L130.08,831.07 L130.29,833.70 L130.49,836.33 L130.69,838.96 L130.90,841.59 L131.10,844.20 L131.31,846.79 L131.51,849.35 L131.72,851.88 L131.92,854.37 L132.12,856.82 L132.33,859.22 L132.53,861.58 L132.74,863.89 L132.94,866.14 L133.15,868.35 L133.35,870.50 L133.56,872.59 L133.76,874.63 L133.96,876.61 L134.17,878.54 L134.37,880.40 L134.58,882.22 L134.78,883.98 L134.99,885.68 L135.19,887.33 L135.40,888.92 L135.60,890.46 L135.80,891.95 L136.01,893.39 L136.21,894.77 L136.42,896.11 L136.62,897.40 L136.83,898.64 L137.03,899.84 L137.23,900.99 L137.44,902.09 L137.64,903.16 L137.85,904.18 L138.05,905.16 L138.26,906.11 L138.46,907.01 L138.67,907.88 L138.87,908.72 L139.07,909.52 L139.28,910.28 L139.48,911.02 L139.69,911.72 L139.89,912.40 L140.10,913.04 L140.30,913.66" fill="none" stroke-width="1.9" />
<path d="M125.00,913.66 L125.20,912.95 L125.39,912.20 L125.59,911.41 L125.78,910.58 L125.98,909.71 L126.17,908.79 L126.37,907.83 L126.56,906.83 L126.76,905.77 L126.95,904.67 L127.15,903.51 L127.34,902.30 L127.54,901.03 L127.73,899.71 L127.93,898.33 L128.12,896.88 L128.32,895.38 L128.52,893.81 L128.71,892.17 L128.91,890.47 L129.10,888.70 L129.30,886.86 L129.49,884.95 L129.69,882.97 L129.88,880.92 L130.08,878.80 L130.27,876.60 L130.47,874.33 L130.66,871.99 L130.86,869.58 L131.05,867.10 L131.25,864.56 L131.45,861.95 L131.64,859.27 L131.84,856.54 L132.03,853.76 L132.23,850.93 L132.42,848.05 L132.62,845.14 L132.81,842.21 L133.01,839.25 L133.20,836.30 L133.40,833.35 L133.59,830.42 L133.79,827.53 L133.98,824.70 L134.18,821.94 L134.38,819.27 L134.57,816.73 L134.77,814.33 L134.96,812.10 L135.16,810.06 L135.35,808.24 L135.55,806.66 L135.74,805.34 L135.94,804.29 L136.13,803.51 L136.33,802.99 L136.52,802.70 L136.72,802.60 L136.91,802.61 L137.11,802.67 L137.30,802.82 L137.50,803.10 L137.70,803.50 L137.89,804.05 L138.09,804.72 L138.28,805.53 L138.48,806.47 L138.67,807.52 L138.87,808.68 L139.06,809.94 L139.26,811.29 L139.45,812.71 L139.65,814.21 L139.84,815.76 L140.04,817.37 L140.23,819.02 L140.43,820.71 L140.62,822.43 L140.82,824.18 L141.02,825.94 L141.21,827.73 L141.41,829.53 L141.60,831.33 L141.80,833.14 L141.99,834.95 L142.19,836.76 L142.38,838.56 L142.58,840.36 L142.77,842.14 L142.97,843.92 L143.16,845.68 L143.36,847.43 L143.55,849.16 L143.75,850.88 L143.95,852.57 L144.14,854.25 L144.34,855.90 L144.53,857.53 L144.73,859.15 L144.92,860.73 L145.12,862.30 L145.31,863.84 L145.51,865.35 L145.70,866.85 L145.90,868.31 L146.09,869.75 L146.29,871.17 L146.48,872.56 L146.68,873.92 L146.88,875.26 L147.07,876.57 L147.27,877.86 L147.46,879.12 L147.66,880.36 L147.85,881.57 L148.05,882.76 L148.24,883.92 L148.44,885.05 L148.63,886.16 L148.83,887.25 L149.02,888.31 L149.22,889.35 L149.41,890.37 L149.61,891.36 L149.80,892.33 L150.00,893.28 L150.20,894.20 L150.39,895.10 L150.59,895.98 L150.78,896.84 L150.98,897.68 L151.17,898.50 L151.37,899.30 L151.56,900.07 L151.76,900.83 L151.95,901.57 L152.15,902.29 L152.34,902.99 L152.54,903.68 L152.73,904.34 L152.93,904.99 L153.12,905.62 L153.32,906.23 L153.52,906.83 L153.71,907.41 L153.91,907.98 L154.10,908.53 L154.30,909.06 L154.49,909.58 L154.69,910.09 L154.88,910.58 L155.08,911.06 L155.27,911.53 L155.47,911.98 L155.66,912.42 L155.86,912.84 L156.05,913.26 L156.25,913.66" fill="none" stroke-width="1.9" />
<path d="M140.30,913.66 L140.58,912.94 L140.86,912.19 L141.13,911.40 L141.41,910.57 L141.69,909.69 L141.97,908.78 L142.24,907.82 L142.52,906.81 L142.80,905.75 L143.08,904.65 L143.35,903.49 L143.63,902.28 L143.91,901.01 L144.19,899.69 L144.46,898.31 L144.74,896.87 L145.02,895.37 L145.30,893.81 L145.57,892.18 L145.85,890.49 L146.13,888.73 L146.41,886.90 L146.68,885.01 L146.96,883.04 L147.24,881.00 L147.52,878.90 L147.79,876.72 L148.07,874.47 L148.35,872.16 L148.62,869.77 L148.90,867.31 L149.18,864.79 L149.46,862.20 L149.74,859.55 L150.01,856.85 L150.29,854.08 L150.57,851.27 L150.85,848.41 L151.12,845.52 L151.40,842.59 L151.68,839.64 L151.96,836.68 L152.23,833.72 L152.51,830.78 L152.79,827.86 L153.07,824.98 L153.34,822.17 L153.62,819.44 L153.90,816.82 L154.18,814.34 L154.45,812.02 L154.73,809.90 L155.01,808.00 L155.29,806.37 L155.56,805.02 L155.84,803.98 L156.12,803.25 L156.40,802.81 L156.67,802.63 L156.95,802.60 L157.23,802.63 L157.51,802.76 L157.78,803.02 L158.06,803.42 L158.34,803.98 L158.62,804.68 L158.89,805.53 L159.17,806.50 L159.45,807.60 L159.73,808.79 L160.00,810.08 L160.28,811.45 L160.56,812.89 L160.84,814.39 L161.11,815.95 L161.39,817.54 L161.67,819.18 L161.95,820.85 L162.22,822.55 L162.50,824.27 L162.78,826.00 L163.06,827.75 L163.33,829.51 L163.61,831.28 L163.89,833.04 L164.17,834.81 L164.44,836.58 L164.72,838.34 L165.00,840.09 L165.28,841.84 L165.55,843.57 L165.83,845.29 L166.11,847.00 L166.39,848.69 L166.66,850.37 L166.94,852.03 L167.22,853.67 L167.50,855.30 L167.77,856.90 L168.05,858.48 L168.33,860.05 L168.61,861.59 L168.88,863.10 L169.16,864.60 L169.44,866.07 L169.72,867.52 L169.99,868.95 L170.27,870.35 L170.55,871.72 L170.83,873.08 L171.10,874.41 L171.38,875.71 L171.66,877.00 L171.94,878.25 L172.21,879.49 L172.49,880.70 L172.77,881.88 L173.05,883.04 L173.32,884.18 L173.60,885.29 L173.88,886.39 L174.16,887.45 L174.43,888.50 L174.71,889.52 L174.99,890.52 L175.27,891.50 L175.54,892.45 L175.82,893.39 L176.10,894.30 L176.38,895.19 L176.65,896.06 L176.93,896.91 L177.21,897.74 L177.49,898.55 L177.76,899.34 L178.04,900.11 L178.32,900.86 L178.60,901.60 L178.87,902.31 L179.15,903.01 L179.43,903.69 L179.71,904.35 L179.98,904.99 L180.26,905.62 L180.54,906.23 L180.81,906.83 L181.09,907.41 L181.37,907.97 L181.65,908.52 L181.93,909.06 L182.20,909.58 L182.48,910.08 L182.76,910.58 L183.04,911.06 L183.31,911.52 L183.59,911.97 L183.87,912.41 L184.15,912.84 L184.42,913.26 L184.70,913.66" fill="none" stroke-width="1.9" />
<path d="M154.90,913.66 L155.44,912.93 L155.97,912.16 L156.51,911.35 L157.04,910.51 L157.58,909.62 L158.11,908.70 L158.65,907.73 L159.19,906.73 L159.72,905.67 L160.26,904.57 L160.79,903.43 L161.33,902.24 L161.86,901.00 L162.40,899.72 L162.93,898.38 L163.47,896.99 L164.01,895.56 L164.54,894.07 L165.08,892.53 L165.61,890.94 L166.15,889.29 L166.68,887.60 L167.22,885.85 L167.75,884.05 L168.29,882.20 L168.83,880.29 L169.36,878.34 L169.90,876.34 L170.43,874.29 L170.97,872.19 L171.50,870.05 L172.04,867.87 L172.58,865.64 L173.11,863.38 L173.65,861.07 L174.18,858.74 L174.72,856.38 L175.25,853.99 L175.79,851.57 L176.32,849.14 L176.86,846.69 L177.40,844.24 L177.93,841.78 L178.47,839.32 L179.00,836.87 L179.54,834.43 L180.07,832.02 L180.61,829.63 L181.15,827.27 L181.68,824.96 L182.22,822.71 L182.75,820.51 L183.29,818.39 L183.82,816.34 L184.36,814.39 L184.90,812.54 L185.43,810.81 L185.97,809.21 L186.50,807.75 L187.04,806.45 L187.57,805.32 L188.11,804.38 L188.64,803.64 L189.18,803.11 L189.72,802.79 L190.25,802.64 L190.79,802.60 L191.32,802.60 L191.86,802.60 L192.39,802.62 L192.93,802.67 L193.47,802.75 L194.00,802.89 L194.54,803.09 L195.07,803.34 L195.61,803.66 L196.14,804.05 L196.68,804.50 L197.21,805.01 L197.75,805.59 L198.29,806.24 L198.82,806.95 L199.36,807.73 L199.89,808.57 L200.43,809.47 L200.96,810.43 L201.50,811.44 L202.03,812.52 L202.57,813.65 L203.11,814.84 L203.64,816.07 L204.18,817.36 L204.71,818.69 L205.25,820.07 L205.78,821.49 L206.32,822.96 L206.86,824.46 L207.39,826.00 L207.93,827.57 L208.46,829.18 L209.00,830.81 L209.53,832.48 L210.07,834.16 L210.61,835.87 L211.14,837.60 L211.68,839.35 L212.21,841.11 L212.75,842.89 L213.28,844.67 L213.82,846.47 L214.35,848.27 L214.89,850.07 L215.43,851.88 L215.96,853.68 L216.50,855.49 L217.03,857.28 L217.57,859.07 L218.10,860.86 L218.64,862.63 L219.18,864.39 L219.71,866.14 L220.25,867.87 L220.78,869.58 L221.32,871.28 L221.85,872.95 L222.39,874.61 L222.92,876.24 L223.46,877.85 L224.00,879.43 L224.53,880.99 L225.07,882.52 L225.60,884.03 L226.14,885.50 L226.67,886.95 L227.21,888.37 L227.75,889.76 L228.28,891.11 L228.82,892.44 L229.35,893.73 L229.89,894.99 L230.42,896.22 L230.96,897.42 L231.49,898.59 L232.03,899.72 L232.57,900.83 L233.10,901.89 L233.64,902.93 L234.17,903.94 L234.71,904.91 L235.24,905.86 L235.78,906.77 L236.31,907.65 L236.85,908.50 L237.39,909.33 L237.92,910.12 L238.46,910.88 L238.99,911.62 L239.53,912.33 L240.06,913.01 L240.60,913.66" fill="none" stroke-width="1.9" />
<rect x="94" y="791.5" width="36" height="10" fill="#fff" stroke="none"/>
<text x="94.70" y="799.70" font-size="9" textLength="33.30" lengthAdjust="spacingAndGlyphs" fill="#222">LN319GP</text>
<rect x="151" y="791.5" width="37" height="10" fill="#fff" stroke="none"/>
<text x="151.70" y="798.30" font-size="9" textLength="34.70" lengthAdjust="spacingAndGlyphs" fill="#222">LN419YP</text>
<path d="M153,800 L142.5,821" fill="none" stroke-width="0.9" />
<path d="M142,822 L142.6,815.5 L146,817.5 Z" fill="#000" stroke="none"/>
<rect x="179" y="853" width="33" height="10" fill="#fff" stroke="none"/>
<text x="179.70" y="861.50" font-size="9" textLength="32.10" lengthAdjust="spacingAndGlyphs" fill="#222">LN819RP</text>
<rect x="136" y="914" width="37" height="10" fill="#fff" stroke="none"/>
<text x="138.00" y="921.80" font-size="9" textLength="34.00" lengthAdjust="spacingAndGlyphs" fill="#222">LN819RP</text>
<path d="M162,914 L175,902.7" fill="none" stroke-width="0.9" />
<path d="M176,902 L170.5,904.5 L173,907.5 Z" fill="#000" stroke="none"/>
<text x="90.60" y="805.00" font-size="8" text-anchor="end" fill="#555">100</text>
<text x="90.60" y="829.00" font-size="8" text-anchor="end" fill="#555">80</text>
<text x="90.60" y="854.00" font-size="8" text-anchor="end" fill="#555">60</text>
<text x="90.60" y="879.00" font-size="8" text-anchor="end" fill="#555">40</text>
<text x="90.60" y="904.00" font-size="8" text-anchor="end" fill="#555">20</text>
<text x="90.60" y="926.00" font-size="8" text-anchor="end" fill="#555">0</text>
<text x="92.50" y="933.50" font-size="8" text-anchor="middle" fill="#555">500</text>
<text x="142.00" y="933.50" font-size="8" text-anchor="middle" fill="#555">600</text>
<text x="192.00" y="933.50" font-size="8" text-anchor="middle" fill="#555">700</text>
<text x="240.60" y="933.50" font-size="8" text-anchor="middle" fill="#555">800</text>
<text x="157.8" y="946" font-size="10" fill="#333" textLength="32.8" lengthAdjust="spacingAndGlyphs">λ<tspan font-size="7" dy="2">P</tspan><tspan dy="-2">  (nm)</tspan></text>
<text x="131.70" y="953.90" font-size="9.5" textLength="45.00" lengthAdjust="spacingAndGlyphs" fill="#333">Wavelength</text>
<text x="74.00" y="909.40" font-size="9.5" textLength="111.00" lengthAdjust="spacingAndGlyphs" fill="#333" transform="rotate(-90 74.00 909.40)">Relative Luminous Intensity</text>
<text x="65.00" y="829.00" font-size="9" textLength="14.00" lengthAdjust="spacingAndGlyphs" fill="#333" transform="rotate(-90 65.00 829.00)">(%)</text>
<text x="314.90" y="808.80" font-size="10" textLength="95.80" lengthAdjust="spacingAndGlyphs" fill="#222">Directive Characteristics</text>
<path d="M264.0,925.8 A99.0,99.0 0 0 1 462.0,925.8" stroke-width="1.1" fill="none"/>
<line x1="264.0" y1="925.5" x2="462.0" y2="925.5" stroke-width="1"/>
<path d="M343.2,925.8 A19.8,19.8 0 0 1 382.8,925.8" stroke-width="1" stroke-dasharray="3.5 1.6" fill="none"/>
<path d="M323.4,925.8 A39.6,39.6 0 0 1 402.6,925.8" stroke-width="1" stroke-dasharray="3.5 1.6" fill="none"/>
<path d="M303.6,925.8 A59.4,59.4 0 0 1 422.4,925.8" stroke-width="1" stroke-dasharray="3.5 1.6" fill="none"/>
<path d="M283.8,925.8 A79.2,79.2 0 0 1 442.2,925.8" stroke-width="1" stroke-dasharray="3.5 1.6" fill="none"/>
<line x1="363.00" y1="925.80" x2="460.50" y2="908.61" stroke-width="1" stroke-dasharray="3.5 1.6"/>
<line x1="363.00" y1="925.80" x2="456.03" y2="891.94" stroke-width="1" stroke-dasharray="3.5 1.6"/>
<line x1="363.00" y1="925.80" x2="448.74" y2="876.30" stroke-width="1" stroke-dasharray="3.5 1.6"/>
<line x1="363.00" y1="925.80" x2="438.84" y2="862.16" stroke-width="1" stroke-dasharray="3.5 1.6"/>
<line x1="363.00" y1="925.80" x2="426.64" y2="849.96" stroke-width="1" stroke-dasharray="3.5 1.6"/>
<line x1="363.00" y1="925.80" x2="412.50" y2="840.06" stroke-width="1" stroke-dasharray="3.5 1.6"/>
<line x1="363.00" y1="925.80" x2="396.86" y2="832.77" stroke-width="1" stroke-dasharray="3.5 1.6"/>
<line x1="363.00" y1="925.80" x2="380.19" y2="828.30" stroke-width="1" stroke-dasharray="3.5 1.6"/>
<line x1="363.00" y1="925.80" x2="345.81" y2="828.30" stroke-width="1" stroke-dasharray="3.5 1.6"/>
<line x1="363.00" y1="925.80" x2="329.14" y2="832.77" stroke-width="1" stroke-dasharray="3.5 1.6"/>
<line x1="363.00" y1="925.80" x2="313.50" y2="840.06" stroke-width="1" stroke-dasharray="3.5 1.6"/>
<line x1="363.00" y1="925.80" x2="299.36" y2="849.96" stroke-width="1" stroke-dasharray="3.5 1.6"/>
<line x1="363.00" y1="925.80" x2="287.16" y2="862.16" stroke-width="1" stroke-dasharray="3.5 1.6"/>
<line x1="363.00" y1="925.80" x2="277.26" y2="876.30" stroke-width="1" stroke-dasharray="3.5 1.6"/>
<line x1="363.00" y1="925.80" x2="269.97" y2="891.94" stroke-width="1" stroke-dasharray="3.5 1.6"/>
<line x1="363.00" y1="925.80" x2="265.50" y2="908.61" stroke-width="1" stroke-dasharray="3.5 1.6"/>
<line x1="264.00" y1="916.3" x2="264.00" y2="925.8" stroke-width="1"/>
<line x1="283.80" y1="916.3" x2="283.80" y2="925.8" stroke-width="1"/>
<line x1="303.60" y1="916.3" x2="303.60" y2="925.8" stroke-width="1"/>
<line x1="323.40" y1="916.3" x2="323.40" y2="925.8" stroke-width="1"/>
<line x1="343.20" y1="916.3" x2="343.20" y2="925.8" stroke-width="1"/>
<line x1="363.00" y1="916.3" x2="363.00" y2="925.8" stroke-width="1"/>
<line x1="382.80" y1="916.3" x2="382.80" y2="925.8" stroke-width="1"/>
<line x1="402.60" y1="916.3" x2="402.60" y2="925.8" stroke-width="1"/>
<line x1="422.40" y1="916.3" x2="422.40" y2="925.8" stroke-width="1"/>
<line x1="442.20" y1="916.3" x2="442.20" y2="925.8" stroke-width="1"/>
<line x1="462.00" y1="916.3" x2="462.00" y2="925.8" stroke-width="1"/>
<path d="M353.24,925.80 A22.4,52.1 0 1 1 372.76,925.80" fill="none" stroke-width="2.0" />
<path d="M359.0,925.8 L364.0,918.8 L369.0,925.8 Z" fill="#000" stroke="none"/>
<line x1="363.5" y1="826.8" x2="363.5" y2="925.8" stroke-width="1"/>
<text x="363.00" y="822.80" font-size="8" text-anchor="middle" fill="#555">0°</text>
<text x="381.41" y="824.41" font-size="8" text-anchor="middle" fill="#555">10°</text>
<text x="344.59" y="824.41" font-size="8" text-anchor="middle" fill="#555">10°</text>
<text x="399.25" y="829.19" font-size="8" text-anchor="middle" fill="#555">20°</text>
<text x="326.75" y="829.19" font-size="8" text-anchor="middle" fill="#555">20°</text>
<text x="416.00" y="837.00" font-size="8" text-anchor="middle" fill="#555">30°</text>
<text x="310.00" y="837.00" font-size="8" text-anchor="middle" fill="#555">30°</text>
<text x="431.14" y="847.60" font-size="8" text-anchor="middle" fill="#555">40</text>
<text x="294.86" y="847.60" font-size="8" text-anchor="middle" fill="#555">40</text>
<text x="444.20" y="860.66" font-size="8" text-anchor="middle" fill="#555">50°</text>
<text x="281.80" y="860.66" font-size="8" text-anchor="middle" fill="#555">50°</text>
<text x="454.80" y="875.80" font-size="8" text-anchor="middle" fill="#555">60°</text>
<text x="271.20" y="875.80" font-size="8" text-anchor="middle" fill="#555">60°</text>
<text x="462.61" y="892.55" font-size="8" text-anchor="middle" fill="#555">70°</text>
<text x="263.39" y="892.55" font-size="8" text-anchor="middle" fill="#555">70°</text>
<text x="467.39" y="910.39" font-size="8" text-anchor="middle" fill="#555">80°</text>
<text x="258.61" y="910.39" font-size="8" text-anchor="middle" fill="#555">80°</text>
<text x="469.00" y="928.80" font-size="8" text-anchor="middle" fill="#555">90°</text>
<text x="257.00" y="928.80" font-size="8" text-anchor="middle" fill="#555">90°</text>
<text x="363.00" y="849.60" font-size="8" text-anchor="middle" fill="#555">80°</text>
<text x="363.00" y="869.40" font-size="8" text-anchor="middle" fill="#555">60°</text>
<text x="363.00" y="889.20" font-size="8" text-anchor="middle" fill="#555">40°</text>
<text x="363.00" y="909.00" font-size="8" text-anchor="middle" fill="#555">20°</text>
<text x="264.00" y="934.20" font-size="8" text-anchor="middle" fill="#555">100</text>
<text x="283.80" y="934.20" font-size="8" text-anchor="middle" fill="#555">80</text>
<text x="303.60" y="934.20" font-size="8" text-anchor="middle" fill="#555">60</text>
<text x="323.40" y="934.20" font-size="8" text-anchor="middle" fill="#555">40</text>
<text x="343.20" y="934.20" font-size="8" text-anchor="middle" fill="#555">20</text>
<text x="363.00" y="934.20" font-size="8" text-anchor="middle" fill="#555">0</text>
<text x="382.80" y="934.20" font-size="8" text-anchor="middle" fill="#555">20</text>
<text x="402.60" y="934.20" font-size="8" text-anchor="middle" fill="#555">40</text>
<text x="422.40" y="934.20" font-size="8" text-anchor="middle" fill="#555">60</text>
<text x="442.20" y="934.20" font-size="8" text-anchor="middle" fill="#555">80</text>
<text x="462.00" y="934.20" font-size="8" text-anchor="middle" fill="#555">100</text>
<text x="371.40" y="945.50" font-size="9.5" textLength="14.40" lengthAdjust="spacingAndGlyphs" fill="#333">(%)</text>
<text x="308.50" y="956.40" font-size="9.5" textLength="109.20" lengthAdjust="spacingAndGlyphs" fill="#333">Relative Luminous Intensity</text>
<text x="557.3" y="763.9" font-size="12.5" fill="#111">I</text>
<text x="561" y="766.8" font-size="9" fill="#222">F</text>
<text x="584.6" y="763.9" font-size="12.5" fill="#222">T</text>
<text x="592.6" y="766.8" font-size="9" fill="#222">a</text>
<line x1="516.5" y1="778.5" x2="516.5" y2="927" stroke-width="1"/>
<line x1="531.5" y1="778.5" x2="531.5" y2="927" stroke-width="1"/>
<line x1="546.5" y1="778.5" x2="546.5" y2="927" stroke-width="1"/>
<line x1="561.5" y1="778.5" x2="561.5" y2="927" stroke-width="1"/>
<line x1="620.5" y1="778.5" x2="620.5" y2="927" stroke-width="1"/>
<line x1="635.5" y1="778.5" x2="635.5" y2="927" stroke-width="1"/>
<line x1="501.5" y1="822.5" x2="651" y2="822.5" stroke-width="1"/>
<line x1="501.5" y1="837.5" x2="651" y2="837.5" stroke-width="1"/>
<line x1="501.5" y1="852.5" x2="651" y2="852.5" stroke-width="1"/>
<line x1="501.5" y1="867.5" x2="651" y2="867.5" stroke-width="1"/>
<line x1="501.5" y1="882.5" x2="651" y2="882.5" stroke-width="1"/>
<line x1="501.5" y1="897.5" x2="651" y2="897.5" stroke-width="1"/>
<rect x="501.5" y="778.5" width="150" height="149" fill="none" stroke="#000" stroke-width="1"/>
<text x="578" y="842" font-size="8.5" transform="rotate(38 578 842)" stroke="#fff" stroke-width="2.5" fill="#fff" style="stroke:#fff" textLength="33" lengthAdjust="spacingAndGlyphs">LN219RP</text>
<text x="578" y="842" font-size="8.5" transform="rotate(38 578 842)" fill="#444" textLength="33" lengthAdjust="spacingAndGlyphs">LN219RP</text>
<text x="573" y="848.5" font-size="8.5" transform="rotate(38 573 848.5)" stroke="#fff" stroke-width="2.5" fill="#fff" style="stroke:#fff" textLength="33" lengthAdjust="spacingAndGlyphs">LN419YP</text>
<text x="573" y="848.5" font-size="8.5" transform="rotate(38 573 848.5)" fill="#444" textLength="33" lengthAdjust="spacingAndGlyphs">LN419YP</text>
<text x="568" y="856" font-size="8.5" transform="rotate(38 568 856)" stroke="#fff" stroke-width="2.5" fill="#fff" style="stroke:#fff" textLength="33" lengthAdjust="spacingAndGlyphs">LN319GP</text>
<text x="568" y="856" font-size="8.5" transform="rotate(38 568 856)" fill="#444" textLength="33" lengthAdjust="spacingAndGlyphs">LN319GP</text>
<text x="555" y="874" font-size="8.5" transform="rotate(38 555 874)" stroke="#fff" stroke-width="2.5" fill="#fff" style="stroke:#fff" textLength="33" lengthAdjust="spacingAndGlyphs">LN819RP</text>
<text x="555" y="874" font-size="8.5" transform="rotate(38 555 874)" fill="#444" textLength="33" lengthAdjust="spacingAndGlyphs">LN819RP</text>
<path d="M540,837.8 L629,908.75 L629,927" fill="none" stroke-width="2" />
<path d="M540,852.5 L628.1,913.1" fill="none" stroke-width="2" />
<text x="499.00" y="781.00" font-size="8" text-anchor="end" fill="#555">50</text>
<text x="499.00" y="811.00" font-size="8" text-anchor="end" fill="#555">40</text>
<text x="499.00" y="840.50" font-size="8" text-anchor="end" fill="#555">30</text>
<text x="499.00" y="870.00" font-size="8" text-anchor="end" fill="#555">20</text>
<text x="499.00" y="900.00" font-size="8" text-anchor="end" fill="#555">10</text>
<text x="499.00" y="929.00" font-size="8" text-anchor="end" fill="#555">0</text>
<text x="501.20" y="934.00" font-size="8" text-anchor="middle" fill="#555">0</text>
<text x="531.80" y="934.00" font-size="8" text-anchor="middle" fill="#555">20</text>
<text x="561.70" y="934.00" font-size="8" text-anchor="middle" fill="#555">40</text>
<text x="591.40" y="934.00" font-size="8" text-anchor="middle" fill="#555">60</text>
<text x="620.40" y="934.00" font-size="8" text-anchor="middle" fill="#555">80</text>
<text x="648.00" y="934.00" font-size="8" text-anchor="middle" fill="#555">100</text>
<text x="583.7" y="946.2" font-size="10" fill="#333" textLength="32" lengthAdjust="spacingAndGlyphs">T<tspan font-size="7" dy="2">a</tspan><tspan dy="-2">  (°C)</tspan></text>
<text x="540.00" y="957.00" font-size="9.5" textLength="86.50" lengthAdjust="spacingAndGlyphs" fill="#333">Ambient Temperature</text>
<text x="473" y="804" font-size="10" fill="#333" transform="rotate(-90 473 804)" textLength="33.5" lengthAdjust="spacingAndGlyphs">I<tspan font-size="7" dy="2">F</tspan><tspan dy="-2"> (mA)</tspan></text>
<text x="481.00" y="862.20" font-size="9.5" textLength="67.00" lengthAdjust="spacingAndGlyphs" fill="#333" transform="rotate(-90 481.00 862.20)">Forward Current</text>
<rect x="56" y="972" width="597" height="3" fill="#000" stroke="none"/>
<text x="56.20" y="989.00" font-size="12.8" font-family="Liberation Sans" textLength="20.60" lengthAdjust="spacingAndGlyphs">188</text>
<text x="323.4" y="986" font-size="11.5" font-family="Liberation Sans" font-weight="bold" textLength="62.2" lengthAdjust="spacingAndGlyphs" style="stroke:#000;stroke-width:0.55">Panasonic</text>
<text x="590.10" y="104.60" font-size="10.5" textLength="43.10" lengthAdjust="spacingAndGlyphs" fill="#111">Unit: mm</text>
<text x="471.00" y="213.20" font-size="7.2" textLength="102.00" lengthAdjust="spacingAndGlyphs" fill="#444" transform="rotate(-90 471.00 213.20)">2.0 Max. NOT SOLDERED</text>
<line x1="474.60" y1="126.00" x2="474.60" y2="215.50" stroke-width="0.9"/>
<line x1="472.20" y1="194.20" x2="560.60" y2="194.20" stroke-width="0.9"/>
<line x1="472.20" y1="207.20" x2="523.70" y2="207.20" stroke-width="0.9"/>
<text x="492.70" y="114.20" font-size="7.5" textLength="28.10" lengthAdjust="spacingAndGlyphs" fill="#444">5.2±0.2</text>
<line x1="492.00" y1="117.20" x2="522.00" y2="117.20" stroke-width="0.9"/>
<text x="495.90" y="126.70" font-size="7.5" textLength="23.70" lengthAdjust="spacingAndGlyphs" fill="#444">3.0±0.15</text>
<line x1="493.50" y1="130.60" x2="521.40" y2="130.60" stroke-width="0.9"/>
<path d="M493.50,130.60 L497.00,129.40 L497.00,131.80 Z" fill="#000" stroke="none"/>
<line x1="521.40" y1="128.20" x2="521.40" y2="194.80" stroke-width="0.9"/>
<path d="M493.2,155.1 Q493.5,144.2 506.5,144.4 Q520.5,144.6 521.4,154" fill="none" stroke-width="1.0" />
<path d="M495.2,156 Q496,147 506.5,146.8 Q518.5,147 519.8,155" fill="none" stroke-width="0.7" />
<line x1="504.80" y1="144.40" x2="560.00" y2="144.40" stroke-width="0.9"/>
<path d="M560.00,144.40 L557.00,145.60 L557.00,143.20 Z" fill="#000" stroke="none"/>
<line x1="493.20" y1="155.10" x2="493.20" y2="174.00" stroke-width="0.9"/>
<line x1="492.30" y1="174.00" x2="521.40" y2="174.00" stroke-width="0.9"/>
<line x1="524.30" y1="174.00" x2="547.60" y2="174.00" stroke-width="0.9"/>
<line x1="491.70" y1="174.00" x2="491.70" y2="194.20" stroke-width="0.9"/>
<line x1="523.10" y1="174.00" x2="523.10" y2="194.20" stroke-width="0.9"/>
<line x1="494.10" y1="183.00" x2="526.70" y2="183.00" stroke-width="0.9"/>
<text x="535.70" y="114.80" font-size="7.5" textLength="23.10" lengthAdjust="spacingAndGlyphs" fill="#444">5.2±0.15</text>
<line x1="534.00" y1="117.50" x2="563.60" y2="117.50" stroke-width="0.9"/>
<line x1="534.00" y1="117.50" x2="509.50" y2="161.60" stroke-width="0.8" stroke-dasharray="2 1.3"/>
<circle cx="509.5" cy="161.6" r="1" fill="#000" stroke="none"/>
<text x="538.70" y="128.40" font-size="7.5" textLength="27.30" lengthAdjust="spacingAndGlyphs" fill="#444">5.5±0.2</text>
<line x1="538.10" y1="130.60" x2="566.00" y2="130.60" stroke-width="0.9"/>
<line x1="538.10" y1="130.60" x2="509.50" y2="181.80" stroke-width="0.8" stroke-dasharray="2 1.3"/>
<circle cx="509.5" cy="181.8" r="1" fill="#000" stroke="none"/>
<line x1="545.60" y1="144.40" x2="545.60" y2="231.00" stroke-width="0.9"/>
<text x="544.00" y="154.50" font-size="7.5" textLength="10.10" lengthAdjust="spacingAndGlyphs" fill="#444" transform="rotate(-90 544.00 154.50)">0.2</text>
<text x="544.00" y="171.00" font-size="7.5" textLength="8.20" lengthAdjust="spacingAndGlyphs" fill="#444" transform="rotate(-90 544.00 171.00)">4.5</text>
<text x="544.00" y="190.00" font-size="7.5" textLength="11.20" lengthAdjust="spacingAndGlyphs" fill="#444" transform="rotate(-90 544.00 190.00)">3.0</text>
<text x="544.00" y="227.50" font-size="7.5" textLength="30.00" lengthAdjust="spacingAndGlyphs" fill="#444" transform="rotate(-90 544.00 227.50)">5.6±0.5</text>
<text x="557.00" y="184.70" font-size="7.5" textLength="30.80" lengthAdjust="spacingAndGlyphs" fill="#444" transform="rotate(-90 557.00 184.70)">7.5±0.2</text>
<text x="557.00" y="256.70" font-size="7.5" textLength="36.70" lengthAdjust="spacingAndGlyphs" fill="#444" transform="rotate(-90 557.00 256.70)">15.5±1.0</text>
<text x="557.00" y="306.70" font-size="7.5" textLength="11.70" lengthAdjust="spacingAndGlyphs" fill="#444" transform="rotate(-90 557.00 306.70)">1.5</text>
<path d="M560.60,194.20 L557.60,195.40 L557.60,193.00 Z" fill="#000" stroke="none"/>
<line x1="497.50" y1="194.20" x2="497.50" y2="224.00" stroke-width="0.9"/>
<line x1="502.50" y1="194.20" x2="502.50" y2="224.00" stroke-width="0.9"/>
<path d="M497.5,224 L496.4,226 L496.4,231 L497.5,233 L497.5,293.5" fill="none" stroke-width="0.9" />
<path d="M502.5,224 L503.6,226 L503.6,231 L502.5,233 L502.5,293.5" fill="none" stroke-width="0.9" />
<path d="M497.5,293.5 Q500.0,296.0 502.5,293.5" fill="none" stroke-width="0.9" />
<line x1="512.50" y1="194.20" x2="512.50" y2="224.00" stroke-width="0.9"/>
<line x1="516.70" y1="194.20" x2="516.70" y2="224.00" stroke-width="0.9"/>
<path d="M512.5,224 L511.4,226 L511.4,231 L512.5,233 L512.5,284.2" fill="none" stroke-width="0.9" />
<path d="M516.7,224 L517.8000000000001,226 L517.8000000000001,231 L516.7,233 L516.7,284.2" fill="none" stroke-width="0.9" />
<line x1="496.90" y1="234.00" x2="496.90" y2="248.50" stroke-width="2.0"/>
<line x1="511.90" y1="234.00" x2="511.90" y2="248.50" stroke-width="2.0"/>
<line x1="517.20" y1="234.00" x2="517.20" y2="248.50" stroke-width="2.0"/>
<line x1="514.40" y1="194.20" x2="514.40" y2="320.00" stroke-width="0.8" stroke-dasharray="6 1.5 1.5 1.5"/>
<text x="455.80" y="244.00" font-size="8.5" textLength="40.00" lengthAdjust="spacingAndGlyphs" fill="#444">2−1.0±0.1</text>
<line x1="454.00" y1="246.30" x2="524.00" y2="246.30" stroke-width="0.9"/>
<text x="455.80" y="260.80" font-size="8.5" textLength="40.00" lengthAdjust="spacingAndGlyphs" fill="#444">2−0.6±0.1</text>
<line x1="494.50" y1="262.50" x2="519.00" y2="262.50" stroke-width="0.8" stroke-dasharray="3 2"/>
<line x1="517.50" y1="284.20" x2="560.00" y2="284.20" stroke-width="0.9"/>
<path d="M560.00,284.20 L557.00,285.40 L557.00,283.00 Z" fill="#000" stroke="none"/>
<text x="534.00" y="238.00" font-size="7" fill="#444" transform="rotate(-70 534.00 238.00)">10°</text>
<text x="519.00" y="307.50" font-size="7.5" textLength="12.70" lengthAdjust="spacingAndGlyphs" fill="#444">2.54</text>
<path d="M514.80,303.00 L513.60,300.00 L516.00,300.00 Z" fill="#000" stroke="none"/>
<text x="496.50" y="319.50" font-size="8" fill="#444">1</text>
<text x="511.50" y="319.50" font-size="8" fill="#444">2</text>
<line x1="491.25" y1="335.00" x2="522.50" y2="335.00" stroke-width="0.9"/>
<line x1="491.25" y1="335.00" x2="491.25" y2="368.75" stroke-width="0.9"/>
<line x1="491.25" y1="368.75" x2="522.50" y2="368.75" stroke-width="0.9"/>
<rect x="496.5" y="350.5" width="7" height="3.5" fill="none" stroke="#000" stroke-width="1.2"/>
<rect x="511.5" y="350.5" width="7" height="3.5" fill="none" stroke="#000" stroke-width="1.2"/>
<line x1="515.00" y1="348.50" x2="515.00" y2="356.50" stroke-width="1.2"/>
<text x="597.50" y="357.50" font-size="8.5" textLength="30.00" lengthAdjust="spacingAndGlyphs" fill="#444">1: Anode</text>
<text x="597.50" y="367.50" font-size="8.5" textLength="36.20" lengthAdjust="spacingAndGlyphs" fill="#444">2: Cathode</text>
<text x="579.00" y="114.30" font-size="7.5" textLength="28.50" lengthAdjust="spacingAndGlyphs" fill="#444">4.8±0.2</text>
<line x1="579.00" y1="117.00" x2="606.80" y2="117.00" stroke-width="0.9"/>
<text x="581.80" y="126.80" font-size="7.5" textLength="22.20" lengthAdjust="spacingAndGlyphs" fill="#444">2.5±0.15</text>
<line x1="586.00" y1="130.30" x2="599.90" y2="130.30" stroke-width="0.9"/>
<text x="611.70" y="140.70" font-size="7.5" textLength="23.60" lengthAdjust="spacingAndGlyphs" fill="#444">2.7±0.15</text>
<line x1="609.60" y1="142.00" x2="636.00" y2="142.00" stroke-width="0.9"/>
<line x1="609.60" y1="142.00" x2="601.25" y2="155.30" stroke-width="0.8" stroke-dasharray="2 1.3"/>
<path d="M585,156.7 L585,149 Q585,144.9 593,144.9 Q600.8,144.9 600.8,149 L600.8,156.7" fill="none" stroke-width="1.0" />
<path d="M585,157.5 Q593,154.5 600.8,157.5" fill="none" stroke-width="0.9" />
<line x1="585.00" y1="157.50" x2="585.00" y2="174.00" stroke-width="0.8" stroke-dasharray="3 1.2"/>
<line x1="600.80" y1="157.50" x2="600.80" y2="174.00" stroke-width="0.8" stroke-dasharray="3 1.2"/>
<line x1="579.00" y1="174.00" x2="607.50" y2="174.00" stroke-width="0.9"/>
<text x="608.20" y="174.70" font-size="7.5" textLength="27.80" lengthAdjust="spacingAndGlyphs" fill="#444">5.0±0.2</text>
<line x1="578.30" y1="174.20" x2="578.30" y2="194.30" stroke-width="0.9"/>
<line x1="607.50" y1="174.20" x2="607.50" y2="194.30" stroke-width="0.9"/>
<line x1="578.30" y1="194.30" x2="607.50" y2="194.30" stroke-width="0.9"/>
<line x1="581.00" y1="183.50" x2="611.00" y2="183.50" stroke-width="0.9"/>
<line x1="599.00" y1="177.00" x2="596.00" y2="183.50" stroke-width="0.8"/>
<line x1="590.60" y1="194.30" x2="590.60" y2="294.30" stroke-width="0.9"/>
<line x1="595.70" y1="194.30" x2="595.70" y2="294.30" stroke-width="0.9"/>
<path d="M590.6,294.3 Q593.15,296.5 595.7,294.3" fill="none" stroke-width="0.9" />
<line x1="590.60" y1="225.60" x2="595.70" y2="225.60" stroke-width="0.9"/>
<line x1="590.60" y1="231.80" x2="595.70" y2="231.80" stroke-width="0.9"/>
<line x1="590.60" y1="284.60" x2="595.70" y2="284.60" stroke-width="0.9"/>
<text x="598.50" y="261.00" font-size="7.5" textLength="27.75" lengthAdjust="spacingAndGlyphs" fill="#444">0.6±0.1</text>
<line x1="585.30" y1="262.40" x2="628.30" y2="262.40" stroke-width="0.9"/>
</svg></body></html>
